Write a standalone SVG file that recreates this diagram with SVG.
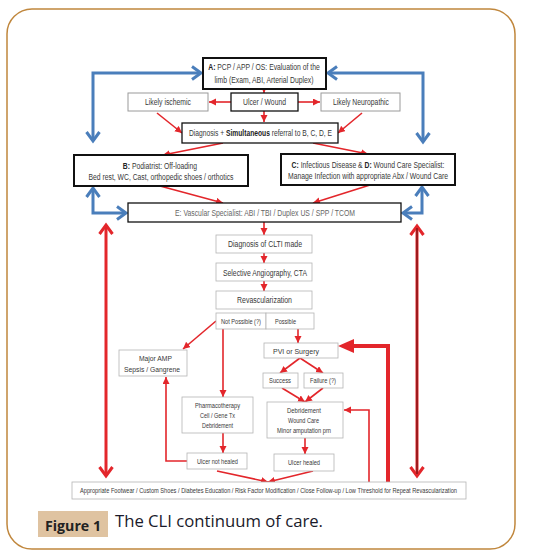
<svg xmlns="http://www.w3.org/2000/svg" width="548" height="558" viewBox="0 0 548 558">
<style>
text{font-family:"Liberation Sans",Arial,sans-serif;fill:#383838;text-anchor:middle}
.bd{font-weight:bold;fill:#222}
.t8{font-size:8.5px}
.t6{font-size:6.5px}
.bk{fill:#fff;stroke:#111;stroke-width:2}
.bm{fill:#fff;stroke:#111;stroke-width:1.3}
.bg{fill:#fff;stroke:#9a9a9a;stroke-width:1}
.bl{fill:#fff;stroke:#b5b5b5;stroke-width:0.8}
.r{fill:none;stroke:#e3262b;stroke-width:1.6}
.rt{fill:none;stroke:#e3262b;stroke-width:4}
.rd{fill:none;stroke:#e3262b;stroke-width:3}
.b{fill:none;stroke:#4a7ebb;stroke-width:3}
</style>
<defs>
<marker id="ah" markerUnits="userSpaceOnUse" markerWidth="8" markerHeight="8" refX="7" refY="3.5" orient="auto-start-reverse"><path d="M0,0 L7,3.5 L0,7 z" fill="#e3262b"/></marker>
<marker id="ahb" markerUnits="userSpaceOnUse" markerWidth="14" markerHeight="16" refX="11" refY="8" orient="auto-start-reverse"><path d="M2,1.5 L11,8 L2,14.5" fill="none" stroke="#4a7ebb" stroke-width="3"/></marker>
<marker id="ahr" markerUnits="userSpaceOnUse" markerWidth="14" markerHeight="16" refX="11" refY="8" orient="auto-start-reverse"><path d="M2,1.5 L11,8 L2,14.5" fill="none" stroke="#e3262b" stroke-width="3"/></marker>
</defs>
<rect x="7" y="9" width="508" height="540" rx="25" fill="#fff" stroke="#c0873d" stroke-width="1.5"/>

<g id="connectors">
<path class="b" d="M93,141 L93,73 L201,73" marker-start="url(#ahb)" marker-end="url(#ahb)"/>
<path class="b" d="M423,142 L423,73 L328,73" marker-start="url(#ahb)" marker-end="url(#ahb)"/>
<path class="b" d="M93,188 L93,213 L126,213" marker-start="url(#ahb)" marker-end="url(#ahb)"/>
<path class="b" d="M422,187 L422,213 L403,213" marker-start="url(#ahb)" marker-end="url(#ahb)"/>
<path class="r" d="M264,89 L264,93" marker-end="url(#ah)"/>
<path class="r" d="M231,102 L209,102" marker-end="url(#ah)"/>
<path class="r" d="M298,102 L320,102" marker-end="url(#ah)"/>
<path class="r" d="M264,111 L264,122" marker-end="url(#ah)"/>
<path class="r" d="M157,113 L182,133" marker-end="url(#ah)"/>
<path class="r" d="M362,113 L338,133" marker-end="url(#ah)"/>
<path class="r" d="M223,143 L163,155" marker-end="url(#ah)"/>
<path class="r" d="M313,143 L368,154" marker-end="url(#ah)"/>
<path class="r" d="M160,186 L223,203" marker-end="url(#ah)"/>
<path class="r" d="M370,185 L313,203" marker-end="url(#ah)"/>
<path class="r" d="M264,222 L264,235" marker-end="url(#ah)"/>
<path class="r" d="M264,253 L264,263" marker-end="url(#ah)"/>
<path class="r" d="M264,281 L264,291" marker-end="url(#ah)"/>
<path class="r" d="M216,321 L183,349" marker-end="url(#ah)"/>
<path class="r" d="M223,329 L223,397" marker-end="url(#ah)"/>
<path class="r" d="M298,329 L298,343" marker-end="url(#ah)"/>
<path class="r" d="M300,358 L280,373" marker-end="url(#ah)"/>
<path class="r" d="M300,358 L323,373" marker-end="url(#ah)"/>
<path class="r" d="M282,388 L305,402" marker-end="url(#ah)"/>
<path class="r" d="M323,388 L305,402" marker-end="url(#ah)"/>
<path class="r" d="M305,438 L305,454" marker-end="url(#ah)"/>
<path class="r" d="M223,433 L223,453" marker-end="url(#ah)"/>
<path class="r" d="M187,461 L166,461 L166,377" marker-end="url(#ah)"/>
<path class="r" d="M217,471 L268,482" marker-end="url(#ah)"/>
<path class="r" d="M313,471 L268,482" marker-end="url(#ah)"/>
<path class="rt" d="M388,482 L388,346 L352,346"/>
<path d="M354,339 L338,346 L354,353 z" fill="#e3262b"/>
<path class="r" d="M369,482 L369,410 L344,410" marker-end="url(#ah)"/>
<path class="rd" d="M106,225 L106,476" marker-start="url(#ahr)" marker-end="url(#ahr)"/>
<path class="rd" d="M417,226 L417,476" marker-start="url(#ahr)" marker-end="url(#ahr)"/>
<path d="M417,228 L417,474" stroke="#3a0a0a" stroke-width="0.8"/>
</g>

<g id="nodeA"><rect class="bk" x="203" y="58" width="123" height="31"/>
<text class="t8" x="264" y="70" transform="matrix(0.8,0,0,1,52.8,0)"><tspan class="bd">A:</tspan> PCP / APP / OS: Evaluation of the</text>
<text class="t8" x="264" y="83" textLength="99" lengthAdjust="spacingAndGlyphs">limb (Exam, ABI, Arterial Duplex)</text></g>

<g id="nodeIschemic"><rect class="bg" x="128" y="93" width="80" height="18"/>
<text class="t8" x="168" y="105" textLength="46" lengthAdjust="spacingAndGlyphs">Likely ischemic</text></g>

<g id="nodeUlcer"><rect class="bm" x="231" y="93" width="67" height="18" stroke-width="1"/>
<text class="t8" x="264.5" y="105" textLength="43" lengthAdjust="spacingAndGlyphs">Ulcer / Wound</text></g>

<g id="nodeNeuro"><rect class="bg" x="321" y="93" width="79" height="18"/>
<text class="t8" x="361" y="105" textLength="56" lengthAdjust="spacingAndGlyphs">Likely Neuropathic</text></g>

<g id="nodeDiagnosis"><rect class="bm" x="182" y="123" width="156" height="20"/>
<text class="t8" x="260.5" y="136" transform="matrix(0.79,0,0,1,54.7,0)">Diagnosis + <tspan class="bd">Simultaneous</tspan> referral to B, C, D, E</text></g>

<g id="nodeB"><rect class="bk" x="74" y="155" width="174" height="31"/>
<text class="t8" x="160" y="169" transform="matrix(0.8,0,0,1,32,0)"><tspan class="bd">B:</tspan> Podiatrist: Off-loading</text>
<text class="t8" x="161" y="180" textLength="145" lengthAdjust="spacingAndGlyphs">Bed rest, WC, Cast, orthopedic shoes / orthotics</text></g>

<g id="nodeC"><rect class="bk" x="281" y="154" width="174" height="31"/>
<text class="t8" x="368" y="168" transform="matrix(0.8,0,0,1,73.6,0)"><tspan class="bd">C:</tspan> Infectious Disease &amp; <tspan class="bd">D:</tspan> Wound Care Specialist:</text>
<text class="t8" x="368" y="179" textLength="160" lengthAdjust="spacingAndGlyphs">Manage Infection with appropriate Abx / Wound Care</text></g>

<g id="nodeE"><rect class="bm" x="128" y="203" width="273" height="19"/>
<text class="t8" x="265" y="216" textLength="180" lengthAdjust="spacingAndGlyphs" style="fill:#666">E: Vascular Specialist: ABI / TBI / Duplex US / SPP / TCOM</text></g>

<g id="nodeCLTI"><rect class="bl" x="216" y="235" width="96" height="18"/>
<text class="t8" x="265" y="247" textLength="74" lengthAdjust="spacingAndGlyphs">Diagnosis of CLTI made</text></g>

<g id="nodeAngio"><rect class="bl" x="216" y="263" width="96" height="18"/>
<text class="t8" x="265" y="276" textLength="84" lengthAdjust="spacingAndGlyphs">Selective Angiography, CTA</text></g>

<g id="nodeRevasc"><rect class="bl" x="216" y="291" width="96" height="18"/>
<text class="t8" x="264.5" y="303" textLength="55" lengthAdjust="spacingAndGlyphs">Revascularization</text></g>

<g id="nodeNotPossible"><rect class="bl" x="216" y="313" width="50" height="16" stroke="#888"/>
<text class="t6" x="241" y="323.5" textLength="40" lengthAdjust="spacingAndGlyphs">Not Possible (?)</text></g>

<g id="nodePossible"><rect class="bl" x="266" y="313" width="48" height="16" stroke="#888"/>
<text class="t6" x="285.5" y="323.5" textLength="21" lengthAdjust="spacingAndGlyphs">Possible</text></g>

<g id="nodeMajorAMP"><rect class="bl" x="119" y="350" width="68" height="26" stroke="#d0d0d0"/>
<text class="t6" x="155.5" y="361" textLength="33" lengthAdjust="spacingAndGlyphs">Major AMP</text>
<text class="t6" x="152" y="372" textLength="56" lengthAdjust="spacingAndGlyphs">Sepsis / Gangrene</text></g>

<g id="nodePVI"><rect class="bl" x="264" y="343" width="74" height="15"/>
<text class="t6" x="296" y="353.5" textLength="46" lengthAdjust="spacingAndGlyphs">PVI or Surgery</text></g>

<g id="nodeSuccess"><rect class="bl" x="263" y="373" width="35" height="15"/>
<text class="t6" x="280" y="383" textLength="22" lengthAdjust="spacingAndGlyphs">Success</text></g>

<g id="nodeFailure"><rect class="bl" x="304" y="373" width="39" height="15"/>
<text class="t6" x="323" y="383" textLength="26" lengthAdjust="spacingAndGlyphs">Failure (?)</text></g>

<g id="nodePharmaco"><rect class="bl" x="182" y="397" width="71" height="36" stroke="#999"/>
<text class="t6" x="217.5" y="408" textLength="45" lengthAdjust="spacingAndGlyphs">Pharmacotherapy</text>
<text class="t6" x="217.5" y="418" textLength="35" lengthAdjust="spacingAndGlyphs">Cell / Gene Tx</text>
<text class="t6" x="217.5" y="428" textLength="31" lengthAdjust="spacingAndGlyphs">Debridement</text></g>

<g id="nodeDebridement"><rect class="bl" x="267" y="402" width="76" height="36"/>
<text class="t6" x="304" y="413" textLength="34" lengthAdjust="spacingAndGlyphs">Debridement</text>
<text class="t6" x="303.5" y="423" textLength="31" lengthAdjust="spacingAndGlyphs">Wound Care</text>
<text class="t6" x="304" y="433" textLength="54" lengthAdjust="spacingAndGlyphs">Minor amputation prn</text></g>

<g id="nodeNotHealed"><rect class="bl" x="187" y="453" width="60" height="16" stroke="#999"/>
<text class="t6" x="217.5" y="463.5" textLength="41" lengthAdjust="spacingAndGlyphs">Ulcer not healed</text></g>

<g id="nodeHealed"><rect class="bl" x="274" y="454" width="60" height="17"/>
<text class="t6" x="304" y="465" textLength="32" lengthAdjust="spacingAndGlyphs">Ulcer healed</text></g>

<g id="nodeBottom"><rect class="bl" x="72" y="482" width="394" height="17" stroke="#999"/>
<text class="t6" x="268.5" y="493" textLength="377" lengthAdjust="spacingAndGlyphs">Appropriate Footwear / Custom Shoes / Diabetes Education / Risk Factor Modification / Close Follow-up / Low Threshold for Repeat Revascularization</text></g>

<g id="caption">
<rect x="38" y="511" width="70" height="26" fill="#dfc3a1"/>
<text x="73" y="531" style="font-family:'Open Sans','Noto Sans',sans-serif;font-size:14px;font-weight:bold;fill:#222" textLength="56" lengthAdjust="spacingAndGlyphs">Figure 1</text>
<text x="115" y="527" style="font-family:'Open Sans','Noto Sans',sans-serif;font-size:17px;fill:#1a1a2a;text-anchor:start" textLength="208" lengthAdjust="spacingAndGlyphs">The CLI continuum of care.</text>
</g>
</svg>
